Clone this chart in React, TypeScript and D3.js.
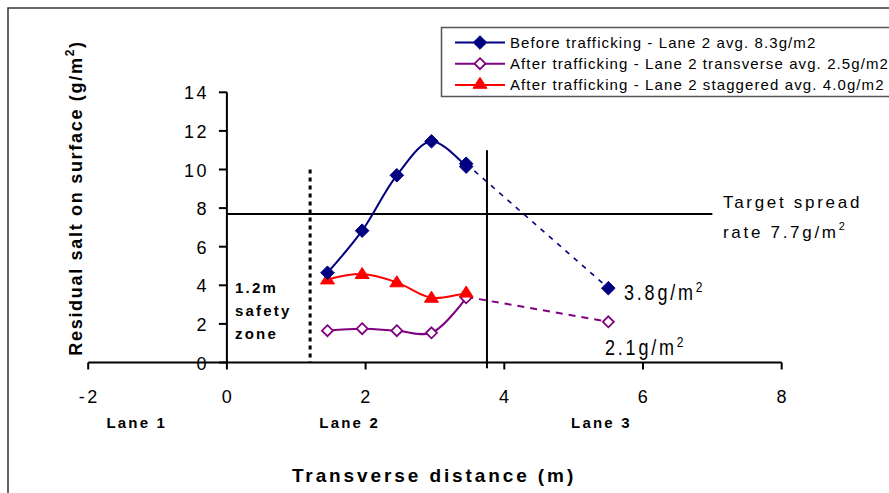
import React from "react";
import * as d3 from "d3";

const beforeX = [1.45, 1.95, 2.45, 2.95, 3.45];
const beforeY = [4.65, 6.83, 9.7, 11.46, 10.15];
const beforeExtX = [3.45, 5.5];
const beforeExtY = [10.3, 3.85];

const transX = [1.45, 1.95, 2.45, 2.95, 3.45];
const transY = [1.65, 1.75, 1.65, 1.54, 3.35];
const transExtX = [3.45, 5.5];
const transExtY = [3.4, 2.11];

const stagX = [1.45, 1.95, 2.45, 2.95, 3.45];
const stagY = [4.3, 4.58, 4.15, 3.35, 3.62];

const xTicks = [-2, 0, 2, 4, 6, 8];
const yTicks = [0, 2, 4, 6, 8, 10, 12, 14];

const legendLabels = [
  "Before trafficking - Lane 2 avg. 8.3g/m2",
  "After trafficking - Lane 2 transverse avg. 2.5g/m2",
  "After trafficking - Lane 2 staggered avg. 4.0g/m2",
];

const laneLabels = ["Lane 1", "Lane 2", "Lane 3"];
const laneX = [-1.3, 1.77, 5.4];

const targetRate = 7.7;
const targetEnd = 7;
const safetyX = 1.2;
const safetyTop = 10;
const laneDivX = 3.75;
const laneDivTop = 11;

const NAVY = "#000080";
const PURPLE = "#800080";
const RED = "#FF0000";
const FONT = "'Liberation Sans', Arial, sans-serif";

const x = d3.scaleLinear().domain([-2, 8]).range([88.2, 781.7]);
const y = d3.scaleLinear().domain([0, 14]).range([362.5, 92.3]);

const zip = (xs: number[], ys: number[]) => xs.map((v, i) => [v, ys[i]] as [number, number]);

const smooth = d3
  .line<[number, number]>()
  .x((d) => x(d[0]))
  .y((d) => y(d[1]))
  .curve(d3.curveCatmullRom.alpha(0.5));
const straight = d3
  .line<[number, number]>()
  .x((d) => x(d[0]))
  .y((d) => y(d[1]));

const diamond = (r: number) => `M0,${-r}L${r},0L0,${r}L${-r},0Z`;
const triangle = (w: number, h: number) => `M0,${-h * 0.6}L${w / 2},${h * 0.4}L${-w / 2},${h * 0.4}Z`;

function Marker({ kind, cx, cy }: { kind: number; cx: number; cy: number }) {
  if (kind === 0)
    return <path d={diamond(6.8)} transform={`translate(${cx},${cy})`} fill={NAVY} stroke={NAVY} strokeWidth={1} />;
  if (kind === 1)
    return <path d={diamond(5.5)} transform={`translate(${cx},${cy})`} fill="#fff" stroke={PURPLE} strokeWidth={1.8} />;
  return <path d={triangle(14, 11)} transform={`translate(${cx},${cy})`} fill={RED} stroke={RED} strokeWidth={1} />;
}

export default function App() {
  const colors = [NAVY, PURPLE, RED];
  return (
    <svg
      width={889}
      height={493}
      style={{ position: "absolute", left: 0, top: 0, background: "#fff" }}
      fontFamily={FONT}
    >
      <rect x={8} y={8} width={900} height={520} fill="#fff" stroke="#333" strokeWidth={1.5} />

      {/* legend */}
      <rect x={441.5} y={27.5} width={460} height={69} fill="#fff" stroke="#555" strokeWidth={1.5} />
      {legendLabels.map((t, i) => {
        const cy = 42.5 + i * 21.2;
        return (
          <g key={t}>
            <line x1={455} x2={505} y1={cy} y2={cy} stroke={colors[i]} strokeWidth={2} />
            <Marker kind={i} cx={480} cy={i === 2 ? cy - 1 : cy} />
            <text x={510} y={cy + 5.5} fontSize={15} letterSpacing={1.1} fill="#000">
              {t}
            </text>
          </g>
        );
      })}

      {/* axes */}
      <line x1={x(0)} x2={x(0)} y1={y(14)} y2={y(0)} stroke="#000" strokeWidth={2} />
      <line x1={x(-2)} x2={x(8)} y1={y(0)} y2={y(0)} stroke="#000" strokeWidth={2} />
      {yTicks.map((t) => (
        <g key={"y" + t}>
          <line x1={x(0) - 8} x2={x(0)} y1={y(t)} y2={y(t)} stroke="#000" strokeWidth={2} />
          <text x={209} y={y(t) + 7} fontSize={18} letterSpacing={2.5} textAnchor="end" fill="#000">
            {t}
          </text>
        </g>
      ))}
      {xTicks.map((t) => (
        <g key={"x" + t}>
          <line x1={x(t)} x2={x(t)} y1={y(0)} y2={y(0) + 7} stroke="#000" strokeWidth={2} />
          <text x={x(t) + 1} y={403} fontSize={18} letterSpacing={2.5} textAnchor="middle" fill="#000">
            {t}
          </text>
        </g>
      ))}

      {/* reference lines */}
      <line x1={x(0)} x2={x(targetEnd)} y1={y(targetRate)} y2={y(targetRate)} stroke="#000" strokeWidth={2} />
      <line
        x1={x(safetyX)}
        x2={x(safetyX)}
        y1={y(safetyTop)}
        y2={y(0)}
        stroke="#000"
        strokeWidth={3}
        strokeDasharray="4 4"
      />
      <line x1={x(laneDivX)} x2={x(laneDivX)} y1={y(laneDivTop)} y2={y(-0.3)} stroke="#000" strokeWidth={2} />

      {/* series */}
      <path d={straight(zip(beforeExtX, beforeExtY)) || ""} fill="none" stroke={NAVY} strokeWidth={1.6} strokeDasharray="5 6" />
      <path d={straight(zip(transExtX, transExtY)) || ""} fill="none" stroke={PURPLE} strokeWidth={2} strokeDasharray="7 6" />
      <path d={smooth(zip(transX, transY)) || ""} fill="none" stroke={PURPLE} strokeWidth={2} />
      <path d={smooth(zip(stagX, stagY)) || ""} fill="none" stroke={RED} strokeWidth={2} />
      <path d={smooth(zip(beforeX, beforeY)) || ""} fill="none" stroke={NAVY} strokeWidth={2} />

      {zip(transX, transY).map((d, i) => (
        <Marker key={"t" + i} kind={1} cx={x(d[0])} cy={y(d[1])} />
      ))}
      <Marker kind={1} cx={x(transExtX[1])} cy={y(transExtY[1])} />
      {zip(stagX, stagY).map((d, i) => (
        <Marker key={"s" + i} kind={2} cx={x(d[0])} cy={y(d[1])} />
      ))}
      {zip(beforeX, beforeY).map((d, i) => (
        <Marker key={"b" + i} kind={0} cx={x(d[0])} cy={y(d[1])} />
      ))}
      {zip(beforeExtX, beforeExtY).map((d, i) => (
        <Marker key={"be" + i} kind={0} cx={x(d[0])} cy={y(d[1])} />
      ))}

      {/* annotations */}
      <text x={723} y={208} fontSize={17} letterSpacing={2.7} fill="#000">
        Target spread
      </text>
      <text x={723} y={238} fontSize={17} letterSpacing={2.7} fill="#000">
        rate 7.7g/m<tspan dy={-8} fontSize={11}>2</tspan>
      </text>
      <text transform="translate(624,300) scale(1,1.2)" fontSize={18} letterSpacing={2.8} fill="#000">
        3.8g/m<tspan dy={-7} fontSize={12}>2</tspan>
      </text>
      <text transform="translate(605,355) scale(1,1.2)" fontSize={18} letterSpacing={2.8} fill="#000">
        2.1g/m<tspan dy={-7} fontSize={12}>2</tspan>
      </text>

      <g fontWeight="bold" fontSize={15} letterSpacing={2.2} fill="#000">
        <text x={235} y={293}>1.2m</text>
        <text x={235} y={316}>safety</text>
        <text x={235} y={339}>zone</text>
      </g>

      {laneLabels.map((t, i) => (
        <text key={t} x={x(laneX[i])} y={428} fontSize={15} fontWeight="bold" letterSpacing={2.2} textAnchor="middle" fill="#000">
          {t}
        </text>
      ))}

      <text x={434} y={482} fontSize={19} fontWeight="bold" letterSpacing={2.9} textAnchor="middle" fill="#000">
        Transverse distance (m)
      </text>
      <text
        transform="translate(82,198) rotate(-90)"
        fontSize={18}
        fontWeight="bold"
        letterSpacing={1.7}
        textAnchor="middle"
        fill="#000"
      >
        Residual salt on surface (g/m<tspan dy={-8} fontSize={12}>2</tspan>
        <tspan dy={8}>)</tspan>
      </text>
    </svg>
  );
}
